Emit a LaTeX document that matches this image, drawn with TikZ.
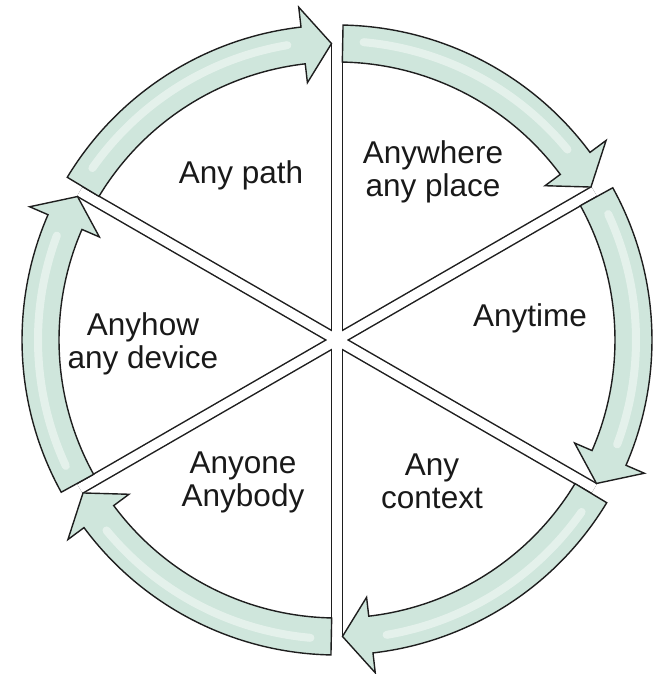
\documentclass[tikz,border=0pt]{standalone}
\usepackage{fontspec}
\setmainfont{Liberation Sans}
\definecolor{mint}{HTML}{CFE6DC}
\definecolor{edge}{HTML}{1E1E1E}
\tikzset{
  arrowbox/.style={fill=mint, draw=edge, line width=1.4pt, line join=miter},
  gloss/.style={draw=white, opacity=0.45, line width=8pt, line cap=round},
  stripedge/.style={draw=edge, line width=12.5pt},
  stripfill/.style={draw=white, line width=9.5pt},
  lbl/.style={font=\fontsize{31.5}{33}\selectfont, align=center, text=black!90, inner sep=0pt}
}
\begin{document}
\begin{tikzpicture}[x=1pt,y=1pt]
\useasboundingbox (-337,-334) rectangle (321,340);
% dividers (white strips with dark edges)
\foreach \a in {90,30,150} {
  \draw[stripedge] (\a:297pt) -- (\a+180:297pt);
}
\foreach \a in {90,30,150} {
  \draw[stripfill] (\a:297pt) -- (\a+180:297pt);
}
% curved arrows
\foreach \k in {0,...,5} {
  \pgfmathsetmacro\T{90-60*\k-1.1}
  \pgfmathsetmacro\P{90-60*(\k+1)+1.06}
  \pgfmathsetmacro\B{\P+5.5}
  \pgfmathsetmacro\Ga{\T-4}
  \pgfmathsetmacro\Gb{\B+3}
  \draw[arrowbox] (\T:278pt) -- (\T:315pt)
     arc[start angle=\T, end angle=\B, radius=315pt]
     -- (\B:335pt) -- (\P:296.5pt) -- (\B:259pt) -- (\B:278pt)
     arc[start angle=\B, end angle=\T, radius=278pt] -- cycle;
  \draw[gloss] (\Ga:299pt) arc[start angle=\Ga, end angle=\Gb, radius=299pt];
}
% labels
\node[lbl] (path)    at (-96,165)  {Any path};
\node[lbl] (where)   at (96,168)   {Anywhere\\any place};
\node[lbl] (time)    at (193,22)   {Anytime};
\node[lbl] (context) at (95,-141)  {Any\\context};
\node[lbl] (one)     at (-94,-142) {Anyone\\Anybody};
\node[lbl] (how)     at (-194,-4)  {Anyhow\\any device};
\end{tikzpicture}
\end{document}
